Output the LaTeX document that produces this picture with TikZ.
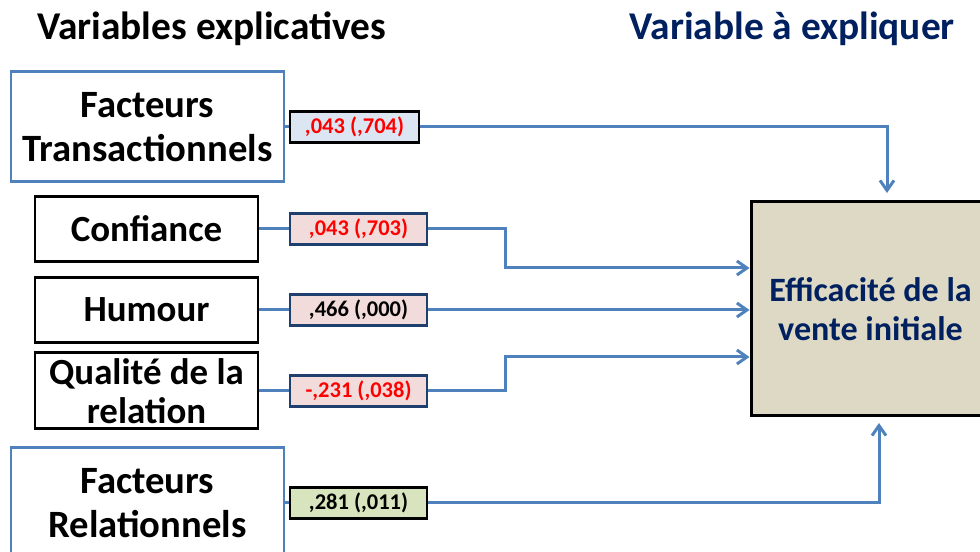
\documentclass[tikz,border=0pt]{standalone}
\usepackage{fontspec}
\setmainfont{Carlito}
\usetikzlibrary{arrows.meta,positioning}
\definecolor{lblue}{HTML}{4F81BD}
\definecolor{navy}{HTML}{002060}
\definecolor{dnavy}{HTML}{1F3F6F}
\definecolor{cblue}{HTML}{DCE6F2}
\definecolor{cpink}{HTML}{F2DCDB}
\definecolor{cgreen}{HTML}{D7E4BD}
\definecolor{ctan}{HTML}{DDD9C4}
\begin{document}
\begin{tikzpicture}[
    var/.style={draw,line width=1.7pt,fill=white,align=center,inner sep=0pt,
      font=\fontsize{21}{22}\selectfont\bfseries},
    grp/.style={var,draw=lblue,minimum width=5.46cm,minimum height=2.2cm,
      font=\fontsize{22}{25}\selectfont\bfseries},
    fac/.style={var,minimum width=4.46cm,minimum height=1.3cm},
    coef/.style={draw,line width=1.4pt,inner sep=0pt,minimum height=0.62cm,
      minimum width=2.74cm,font=\fontsize{12.8}{14}\selectfont\bfseries},
    conn/.style={draw=lblue,line width=1.7pt},
    arr/.style={conn,-{Straight Barb[length=2mm,width=2.8mm]}},
    title/.style={font=\fontsize{22.4}{26}\selectfont\bfseries}]
    \clip (0,0) rectangle (19.6,11.04);
    \node[title,anchor=west] (tl) at (0.62,10.46) {Variables explicatives};
    \node[title,anchor=east,text=navy] (tr) at (19.22,10.46) {Variable à expliquer};
    \node[grp] (ft) at (2.95,8.50) {Facteurs\\Transactionnels};
    \node[fac] (conf) at (2.93,6.46) {Confiance};
    \node[fac] (hum) at (2.93,4.84) {Humour};
    \node[fac,minimum height=1.52cm] (qual) at (2.93,3.22) {Qualité de la\\relation};
    \node[grp] (fr) at (2.95,0.98) {Facteurs\\Relationnels};
    \node[coef,fill=cblue,minimum width=2.58cm,text=red] (l1) at (7.09,8.50) {,043 (,704)};
    \node[coef,fill=cpink,draw=dnavy,text=red] (l2) at (7.17,6.46) {,043 (,703)};
    \node[coef,fill=cpink,draw=dnavy] (l3) at (7.17,4.84) {,466 (,000)};
    \node[coef,fill=cpink,draw=dnavy,text=red] (l4) at (7.17,3.22) {-,231 (,038)};
    \node[coef,fill=cgreen] (l5) at (7.17,0.98) {,281 (,011)};
    \node[draw,line width=1.7pt,fill=ctan,minimum width=4.78cm,minimum height=4.28cm,
      align=center,text=navy,font=\fontsize{19.4}{21.8}\selectfont\bfseries] (tgt) at (17.41,4.86) {Efficacité de la\\vente initiale};
    \coordinate (k1) at (17.74,7.18);
    \coordinate (k2) at (10.10,5.68);
    \coordinate (k4) at (10.10,3.90);
    \coordinate (k5) at (17.58,2.58);
    \draw[conn] (ft) -- (l1);
    \draw[conn] (conf) -- (l2);
    \draw[conn] (hum) -- (l3);
    \draw[conn] (qual) -- (l4);
    \draw[conn] (fr) -- (l5);
    \draw[arr] (l1.east) -| (k1);
    \draw[arr] (l2.east) -| (k2) -- (tgt.west |- k2);
    \draw[arr] (l3.east) -- (tgt.west |- l3.east);
    \draw[arr] (l4.east) -| (k4) -- (tgt.west |- k4);
    \draw[arr] (l5.east) -| (k5);
\end{tikzpicture}
\end{document}
